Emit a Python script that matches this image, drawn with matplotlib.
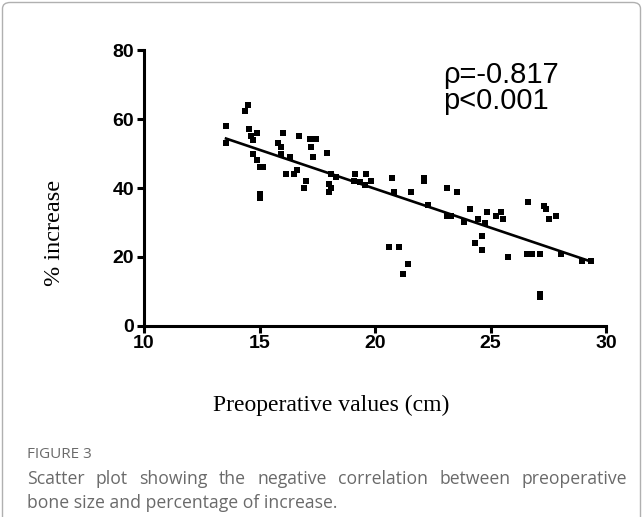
import numpy as np
import matplotlib
matplotlib.use("Agg")
import matplotlib.pyplot as plt
from matplotlib.patches import FancyBboxPatch

# valores
preop_cm = [13.55, 13.55, 14.36, 14.51, 14.54, 14.9, 14.65, 14.72, 14.72, 14.9,
            15.0, 15.15, 15.0, 15.0, 16.03, 16.7, 17.19, 17.43, 15.81, 15.91,
            17.22, 17.91, 15.94, 16.33, 17.33, 16.61, 16.5, 16.13, 17.03, 16.91,
            18.09, 18.3, 18.0, 18.08, 18.02, 19.13, 19.6, 19.1, 19.35, 19.55,
            19.83, 20.74, 20.84, 21.55, 22.14, 22.14, 23.13, 23.55, 22.3, 23.13,
            23.3, 23.84, 24.12, 24.86, 25.44, 25.23, 25.55, 24.45, 24.75, 24.63,
            24.32, 24.63, 25.74, 26.64, 27.33, 27.42, 27.84, 27.55, 26.57, 26.78,
            27.14, 28.05, 28.96, 29.35, 27.15, 27.15, 20.62, 21.03, 21.42, 21.23]
pct_increase = [58.0, 53.2, 62.4, 64.2, 57.2, 56.1, 55.2, 54.1, 50.0, 48.1,
                46.0, 46.0, 38.2, 37.2, 56.1, 55.1, 54.2, 54.2, 53.2, 51.9,
                51.9, 50.1, 49.9, 49.0, 49.1, 45.3, 44.1, 44.0, 42.1, 40.0,
                44.1, 43.3, 41.1, 40.0, 39.0, 44.0, 44.0, 42.0, 41.7, 40.8,
                42.1, 43.0, 38.8, 39.0, 43.0, 42.0, 39.9, 39.0, 35.0, 32.0,
                32.0, 30.0, 33.9, 33.0, 33.0, 31.9, 30.9, 31.0, 29.9, 26.0,
                24.0, 22.0, 19.9, 36.0, 34.9, 33.9, 31.9, 30.9, 20.8, 20.8,
                20.8, 20.8, 18.8, 18.8, 9.3, 8.2, 22.8, 22.8, 17.8, 14.9]
x_ticks = [10, 15, 20, 25, 30]
y_ticks = [0, 20, 40, 60, 80]
rho_txt = "ρ=-0.817"
p_txt = "p<0.001"

W, H = 643, 517
fig = plt.figure(figsize=(W / 100, H / 100), dpi=100)

# marco gris del recuadro
frame = FancyBboxPatch((2.5 / W, -0.2), (W - 5) / W, 1.2 - 2.5 / H,
                       boxstyle="round,pad=0,rounding_size=0.012",
                       transform=fig.transFigure, facecolor="none",
                       edgecolor="#b0b0b0", linewidth=1.0, clip_on=False)
fig.patches.append(frame)

ax = fig.add_axes([144 / W, 1 - 325.7 / H, (606 - 144) / W, (325.7 - 50.5) / H])
ax.scatter(preop_cm, pct_increase, marker="s", s=24, color="black",
           linewidths=0, zorder=3)

# recta de regresion
coef = np.polyfit(preop_cm, pct_increase, 1)
xs = np.array([min(preop_cm), max(preop_cm)])
ax.plot(xs, np.polyval(coef, xs), color="black", linewidth=1.9, zorder=2)

ax.set_xlim(10, 30)
ax.set_ylim(0, 80)
ax.set_xticks(x_ticks)
ax.set_yticks(y_ticks)
for s in ["top", "right"]:
    ax.spines[s].set_visible(False)
for s in ["left", "bottom"]:
    ax.spines[s].set_linewidth(2.2)
ax.tick_params(direction="out", length=5, width=2.2, pad=2)
for lab in ax.get_xticklabels() + ax.get_yticklabels():
    lab.set_fontfamily("Liberation Sans")
    lab.set_fontweight("bold")
    lab.set_fontsize(14)

fig.text(331 / W, 1 - 405 / H, "Preoperative values (cm)", family="Liberation Serif",
         fontsize=17, ha="center", va="center")
fig.text(55 / W, 1 - 233 / H, "% increase", family="Liberation Serif",
         fontsize=17.5, ha="center", va="center", rotation=90)

fig.text(443 / W, 1 - 83 / H, rho_txt, family="Liberation Sans", fontsize=21,
         ha="left", va="baseline")
fig.text(443 / W, 1 - 109 / H, p_txt, family="Liberation Sans", fontsize=21,
         ha="left", va="baseline")

# pie de figura
grey = "#6a6a6a"
fig.text(27 / W, 1 - 455 / H, "FIGURE 3", family="Open Sans", fontsize=11,
         color=grey, ha="left", va="center")

cap1 = "Scatter plot showing the negative correlation between preoperative"
cap2 = "bone size and percentage of increase."

fig.canvas.draw()
renderer = fig.canvas.get_renderer()


def justified(line, y_px, x0_px, x1_px):
    words = line.split()
    txts = [fig.text(0, 1 - y_px / H, w, family="Open Sans", fontsize=12.7,
                     color=grey, ha="left", va="center") for w in words]
    widths = [t.get_window_extent(renderer).width for t in txts]
    gap = (x1_px - x0_px - sum(widths)) / (len(words) - 1)
    x = x0_px
    for t, w in zip(txts, widths):
        t.set_x(x / W)
        x += w + gap


justified(cap1, 479, 27, 627)
fig.text(27 / W, 1 - 503 / H, cap2, family="Open Sans", fontsize=12.7,
         color=grey, ha="left", va="center")

fig.savefig("out.png", dpi=100)
